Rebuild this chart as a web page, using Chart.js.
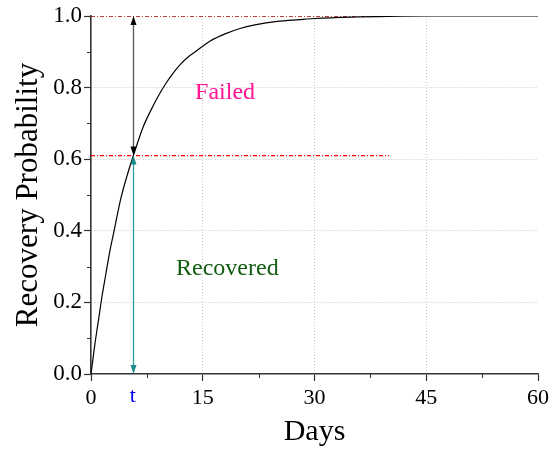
<!DOCTYPE html>
<html><head><meta charset="utf-8">
<script src="https://cdn.jsdelivr.net/npm/chart.js@4/dist/chart.umd.min.js"></script>
<style>html,body{margin:0;padding:0;background:#fff}canvas{display:block}</style>
</head><body>
<canvas id="c" width="553" height="450"></canvas>
<script>
// ---- data ----
const days     = [0, 0.5, 1, 1.5, 2, 2.5, 3, 4, 5, 6, 7, 8, 9, 10, 11, 12, 13, 14, 16, 18, 20, 22, 25, 28, 30, 35, 40, 45, 50, 55, 60];
const recovery = [0, 0.08, 0.15, 0.22, 0.28, 0.34, 0.39, 0.49, 0.565, 0.63, 0.69, 0.735, 0.775, 0.81, 0.84, 0.865, 0.885, 0.90, 0.93, 0.95, 0.965, 0.975, 0.985, 0.99, 0.993, 0.997, 0.999, 1.0, 1.0, 1.0, 1.0];
const xTicks = [0, 15, 30, 45, 60];
const yTicks = [0, 0.2, 0.4, 0.6, 0.8, 1.0];
const xMinor = [7.5, 22.5, 37.5, 52.5];
const yMinor = [0.1, 0.3, 0.5, 0.7, 0.9];
const tDay = 5.6;          // marked time t
const tProb = 0.61;        // recovery probability at t
const refStart = 0;
const refEnd = 40;         // extent of the reference lines
const notes = [
  { text: 'Failed',    x: 18.0, y: 0.785, color: '#ff1493' },
  { text: 'Recovered', x: 18.3, y: 0.295, color: '#105c10' }
];
const tLabel = 't';

const SERIF = '"Liberation Serif", "Times New Roman", serif';

function drawArrow(ctx, x, yTop, yBot, shaft, head) {
  const L = 9, W = 3;
  ctx.save();
  ctx.strokeStyle = shaft; ctx.lineWidth = 1.3;
  ctx.beginPath(); ctx.moveTo(x, yTop + L - 1); ctx.lineTo(x, yBot - L + 1); ctx.stroke();
  ctx.fillStyle = head;
  ctx.beginPath(); ctx.moveTo(x, yTop); ctx.lineTo(x - W, yTop + L); ctx.lineTo(x + W, yTop + L); ctx.closePath(); ctx.fill();
  ctx.beginPath(); ctx.moveTo(x, yBot); ctx.lineTo(x - W, yBot - L); ctx.lineTo(x + W, yBot - L); ctx.closePath(); ctx.fill();
  ctx.restore();
}

const extras = {
  id: 'extras',
  afterDraw(chart) {
    const ctx = chart.ctx, xs = chart.scales.x, ys = chart.scales.y;
    const area = chart.chartArea;
    // minor ticks
    ctx.save();
    ctx.strokeStyle = '#333'; ctx.lineWidth = 1;
    yMinor.forEach(v => {
      const py = Math.round(ys.getPixelForValue(v)) + 0.5;
      ctx.beginPath(); ctx.moveTo(area.left - 4, py); ctx.lineTo(area.left, py); ctx.stroke();
    });
    xMinor.forEach(v => {
      const px = Math.round(xs.getPixelForValue(v)) + 0.5;
      ctx.beginPath(); ctx.moveTo(px, area.bottom); ctx.lineTo(px, area.bottom + 4); ctx.stroke();
    });
    ctx.restore();
    // arrows
    const ax = Math.round(xs.getPixelForValue(tDay)) + 0.5;
    drawArrow(ctx, ax, ys.getPixelForValue(1.0), ys.getPixelForValue(tProb), '#555', '#000');
    drawArrow(ctx, ax, ys.getPixelForValue(tProb), ys.getPixelForValue(0), '#2a9c9c', '#1a8a8a');
    // annotations
    ctx.save();
    ctx.textAlign = 'center'; ctx.textBaseline = 'middle';
    ctx.font = '24px ' + SERIF;
    notes.forEach(n => {
      ctx.fillStyle = n.color;
      ctx.fillText(n.text, xs.getPixelForValue(n.x), ys.getPixelForValue(n.y));
    });
    ctx.font = '22px ' + SERIF;
    ctx.fillStyle = '#0000ff';
    ctx.textBaseline = 'top';
    ctx.fillText(tLabel, xs.getPixelForValue(tDay), area.bottom + 11);
    ctx.restore();
  }
};

new Chart(document.getElementById('c'), {
  type: 'scatter',
  data: {
    datasets: [
      {
        data: days.map((d, i) => ({ x: d, y: recovery[i] })),
        showLine: true, borderColor: '#000', borderWidth: 1.2,
        pointRadius: 0, cubicInterpolationMode: 'monotone', tension: 0.4, fill: false
      },
      {
        data: [{ x: refStart, y: 1.0 }, { x: refEnd, y: 1.0 }],
        showLine: true, borderColor: '#9b0000', borderWidth: 1.3,
        borderDash: [4, 2, 1, 2], pointRadius: 0
      },
      {
        data: [{ x: refStart, y: tProb }, { x: refEnd, y: tProb }],
        showLine: true, borderColor: '#ff0000', borderWidth: 1.3,
        borderDash: [4, 2, 1, 2], pointRadius: 0
      }
    ]
  },
  options: {
    responsive: false, animation: false,
    layout: { padding: { top: 16, right: 12, left: 0, bottom: 0 } },
    plugins: { legend: { display: false }, tooltip: { enabled: false } },
    scales: {
      x: {
        type: 'linear', min: 0, max: 60,
        afterFit: s => { s.height = 76; },
        afterBuildTicks: s => { s.ticks = xTicks.map(v => ({ value: v })); },
        ticks: { color: '#000', font: { family: SERIF, size: 22 }, padding: 4, maxRotation: 0,
                 callback: v => String(v) },
        grid: {
          color: c => (c.tick && (c.tick.value === 0 || c.tick.value === 60)) ? 'rgba(0,0,0,0)' : '#c8c8c8',
          tickColor: '#333', tickLength: 7, lineWidth: 1, tickWidth: 1.2
        },
        border: { display: true, color: '#333', width: 1.6, dash: [1, 2] },
        title: { display: true, text: 'Days', color: '#000', font: { family: SERIF, size: 30 }, padding: { top: 0, bottom: 0 } }
      },
      y: {
        type: 'linear', min: 0, max: 1,
        afterFit: s => { s.width = 91; },
        afterBuildTicks: s => { s.ticks = yTicks.map(v => ({ value: v })); },
        ticks: { color: '#000', font: { family: SERIF, size: 23 }, padding: 2,
                 callback: v => Number(v).toFixed(1) },
        grid: {
          color: c => (c.tick && (c.tick.value === 0 || c.tick.value === 1)) ? 'rgba(0,0,0,0)' : '#c8c8c8',
          tickColor: '#333', tickLength: 7, lineWidth: 1, tickWidth: 1.2
        },
        border: { display: true, color: '#333', width: 1.6, dash: [1, 2] },
        title: { display: true, text: 'Recovery Probability', color: '#000', font: { family: SERIF, size: 31 }, padding: { top: 10, bottom: 0 } }
      }
    }
  },
  plugins: [extras]
});
</script>
</body></html>
